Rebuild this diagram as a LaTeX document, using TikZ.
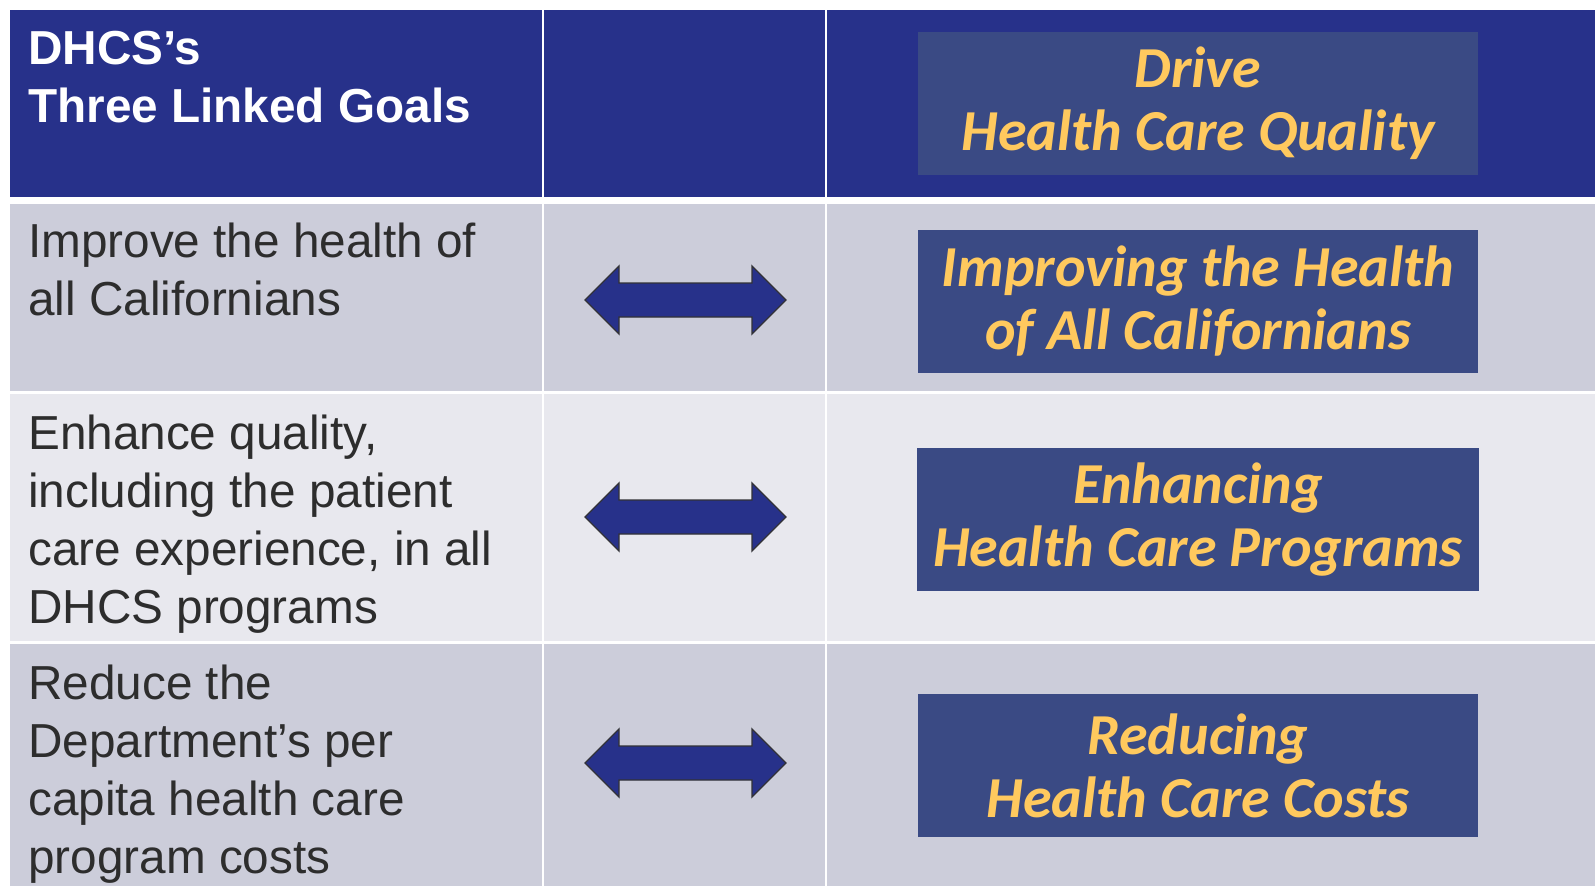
\documentclass[tikz,border=0pt]{standalone}
\usepackage{fontspec}
\setmainfont{Liberation Sans}
\newfontfamily\calfont{Carlito}
\definecolor{hdrblue}{RGB}{39,49,138}
\definecolor{boxblue}{RGB}{58,74,132}
\definecolor{rowdark}{RGB}{204,205,218}
\definecolor{rowlight}{RGB}{232,232,238}
\definecolor{gold}{RGB}{255,201,94}
\definecolor{bodytext}{RGB}{45,45,45}
\definecolor{arrowline}{RGB}{50,50,55}
\newcommand{\dblarrow}[2]{%
  \draw[arrowshape] (585,#2) coordinate (#1) -- (619,#2-34) -- (619,#2-17) -- (752,#2-17) -- (752,#2-34) -- (786,#2) -- (752,#2+34) -- (752,#2+17) -- (619,#2+17) -- (619,#2+34) -- cycle;}
\begin{document}
\begin{tikzpicture}[x=1pt,y=-1pt,
  lefttext/.style={inner sep=0pt, anchor=base west, align=left, text=bodytext,
    font=\fontsize{47.7}{58}\selectfont},
  hdrtext/.style={inner sep=0pt, anchor=base west, align=left, text=white,
    font=\bfseries\fontsize{47.7}{58}\selectfont},
  goalbox/.style={fill=boxblue, minimum width=560pt, minimum height=143pt, inner sep=0pt,
    text=gold, align=center, font=\calfont\bfseries\itshape\fontsize{58}{63}\selectfont},
  arrowshape/.style={fill=hdrblue, draw=arrowline, line width=1.3pt, line join=miter}
]
\useasboundingbox (0,0) rectangle (1595,886);
\fill[white] (0,0) rectangle (1595,886);
% header row
\fill[hdrblue] (10,10) rectangle (542,197);
\fill[hdrblue] (544,10) rectangle (825,197);
\fill[hdrblue] (827,10) rectangle (1595,197);
% row 1
\fill[rowdark] (10,204) rectangle (542,391);
\fill[rowdark] (544,204) rectangle (825,391);
\fill[rowdark] (827,204) rectangle (1595,391);
% row 2
\fill[rowlight] (10,394) rectangle (542,641);
\fill[rowlight] (544,394) rectangle (825,641);
\fill[rowlight] (827,394) rectangle (1595,641);
% row 3
\fill[rowdark] (10,644) rectangle (542,886);
\fill[rowdark] (544,644) rectangle (825,886);
\fill[rowdark] (827,644) rectangle (1595,886);

% left column text (base anchor = baseline of last line)
\node[hdrtext] (title) at (28,122.5) {DHCS’s\\Three Linked Goals};
\node[lefttext] (g1) at (28,315) {Improve the health of\\all Californians};
\node[lefttext] (g2) at (28,623) {Enhance quality,\\including the patient\\care experience, in all\\DHCS programs};
\node[lefttext] (g3) at (28,873) {Reduce the\\Department’s per\\capita health care\\program costs};

% arrows
\dblarrow{a1}{300}
\dblarrow{a2}{517}
\dblarrow{a3}{763}

% right boxes
\node[goalbox] (drive) at (1198,103.5) {Drive\\Health Care Quality};
\node[goalbox] (b1) at (1198,301.5) {Improving the Health\\of All Californians};
\node[goalbox, minimum width=562pt] (b2) at (1198,519.5) {Enhancing\\Health Care Programs};
\node[goalbox] (b3) at (1198,765.5) {Reducing\\Health Care Costs};
\end{tikzpicture}
\end{document}
